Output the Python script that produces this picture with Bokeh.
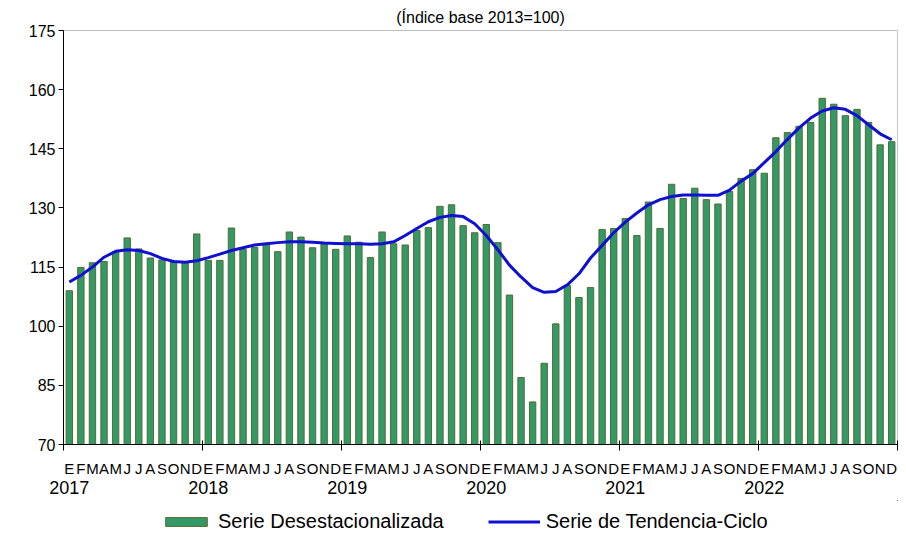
from bokeh.plotting import figure
from bokeh.layouts import column
from bokeh.models import (FixedTicker, LinearAxis, Legend, LegendItem, Range1d,
                          ColumnDataSource)
from bokeh.embed import file_html
from bokeh.resources import INLINE

# ---- data -------------------------------------------------------------
years = ["2017", "2018", "2019", "2020", "2021", "2022"]
month_letters = ["E", "F", "M", "A", "M", "J", "J", "A", "S", "O", "N", "D"]

serie_desest = [
    109.0, 114.9, 116.1, 116.4, 118.9, 122.4, 119.6, 117.3, 116.8, 116.2, 116.0, 123.4,  # 2017
    116.7, 116.7, 124.9, 119.5, 120.0, 120.7, 118.9, 123.9, 122.6, 119.9, 120.9, 119.5,  # 2018
    122.9, 121.3, 117.4, 123.9, 120.9, 120.6, 124.3, 125.0, 130.4, 130.8, 125.5, 123.7,  # 2019
    125.8, 121.2, 107.9, 87.0, 80.8, 90.6, 100.6, 110.3, 107.3, 109.8, 124.5, 124.8,     # 2020
    127.3, 123.0, 131.5, 124.8, 136.0, 132.4, 135.0, 132.1, 131.0, 134.2, 137.5, 139.7,  # 2021
    138.8, 147.8, 149.1, 150.7, 151.7, 157.8, 156.3, 153.4, 155.0, 151.7, 146.0, 146.8,  # 2022
]

serie_tendencia = [
    111.2, 112.9, 115.0, 117.5, 119.0, 119.4, 119.2, 118.4, 117.2, 116.4, 116.2, 116.6,  # 2017
    117.4, 118.3, 119.2, 119.9, 120.6, 120.9, 121.2, 121.4, 121.4, 121.3, 121.1, 121.0,  # 2018
    120.9, 120.9, 120.8, 120.9, 121.4, 123.0, 124.8, 126.5, 127.6, 128.1, 127.8, 126.0,  # 2019
    123.0, 119.4, 115.5, 112.5, 109.8, 108.6, 108.8, 110.5, 113.3, 117.3, 120.5, 123.7,  # 2020
    126.4, 128.7, 130.8, 132.1, 132.9, 133.3, 133.3, 133.2, 133.2, 134.5, 136.8, 138.7,  # 2021
    141.5, 144.3, 147.4, 150.3, 152.8, 154.6, 155.4, 155.0, 153.4, 151.1, 148.8, 147.3,  # 2022
]

y_ticks = [70, 85, 100, 115, 130, 145, 160, 175]

# ---- build ------------------------------------------------------------
n = len(serie_desest)
idx = list(range(n))
src = ColumnDataSource(dict(x=idx, v=serie_desest, t=serie_tendencia))

FONT = "Liberation Sans"
BAR_FILL, BAR_LINE, TREND = "#339966", "#556b2f", "#1010d0"

p = figure(width=906, height=500,
           x_range=Range1d(-0.5, n - 0.5), y_range=Range1d(y_ticks[0], y_ticks[-1]),
           output_backend="svg", toolbar_location=None,
           min_border_left=63, min_border_right=9, min_border_top=30,
           min_border_bottom=56)

p.title.text = "(Índice base 2013=100)"
p.title.align = "center"
p.title.text_font = FONT
p.title.text_font_size = "16px"
p.title.text_font_style = "normal"
p.title.text_color = "black"
p.title.standoff = 10

p.vbar(x="x", top="v", bottom=y_ticks[0], width=0.55, source=src,
       fill_color=BAR_FILL, line_color=BAR_LINE, line_width=1)
p.line(x="x", y="t", source=src, line_color=TREND, line_width=3)

p.xgrid.visible = False
p.ygrid.visible = False
p.outline_line_color = "#c0c0c0"
p.background_fill_color = "white"

# month axis (bottom)
xa = p.xaxis[0]
xa.ticker = FixedTicker(ticks=idx, minor_ticks=[i - 0.5 for i in range(0, n + 1, 12)])
xa.major_label_overrides = {i: month_letters[i % 12] for i in idx}
xa.major_tick_line_color = None
xa.major_tick_out = 0
xa.major_tick_in = 0
xa.minor_tick_line_color = "black"
xa.minor_tick_in = 4
xa.minor_tick_out = 6
xa.axis_line_color = "black"
xa.major_label_standoff = 9
xa.major_label_text_font = FONT
xa.major_label_text_font_size = "15px"
xa.major_label_text_color = "black"

# year axis
ya2 = LinearAxis(ticker=FixedTicker(ticks=list(range(0, n, 12))),
                 major_label_overrides={i * 12: y for i, y in enumerate(years)},
                 axis_line_color=None, major_tick_line_color=None,
                 major_tick_out=0, major_tick_in=0,
                 minor_tick_line_color=None, major_label_standoff=1,
                 major_label_text_font=FONT, major_label_text_font_size="18px",
                 major_label_text_color="black")
p.add_layout(ya2, "below")

# y axis
ya = p.yaxis[0]
ya.ticker = FixedTicker(ticks=y_ticks)
ya.major_tick_in = 0
ya.major_tick_out = 5
ya.minor_tick_line_color = None
ya.axis_line_color = "black"
ya.major_label_standoff = 3
ya.major_label_text_font = FONT
ya.major_label_text_font_size = "16px"
ya.major_label_text_color = "black"

# ---- legend strip (separate small figure; its data lie outside its ranges) ----
leg = figure(width=906, height=36, x_range=Range1d(-20, -10), y_range=Range1d(0, 1),
             output_backend="svg", toolbar_location=None,
             x_axis_type=None, y_axis_type=None,
             min_border_left=0, min_border_right=0, min_border_top=0,
             min_border_bottom=0)
leg.title.visible = False
leg.xgrid.visible = False
leg.ygrid.visible = False
leg.outline_line_color = None
r_bar = leg.vbar(x="x", top="v", bottom=y_ticks[0], width=0.55, source=src,
                 fill_color=BAR_FILL, line_color=BAR_LINE, line_width=1)
r_line = leg.line(x="x", y="t", source=src, line_color=TREND, line_width=3)

legend = Legend(items=[LegendItem(label="Serie Desestacionalizada", renderers=[r_bar]),
                       LegendItem(label="Serie de Tendencia-Ciclo", renderers=[r_line])],
                orientation="horizontal", location=(97, 3),
                border_line_color=None, background_fill_alpha=0,
                glyph_width=52, glyph_height=11, label_standoff=6, spacing=44,
                label_text_font=FONT, label_text_font_size="20px",
                label_text_color="black",
                padding=0, margin=0)
leg.add_layout(legend, "center")

layout = column(p, leg)
open("out.html", "w").write(file_html(layout, INLINE))
